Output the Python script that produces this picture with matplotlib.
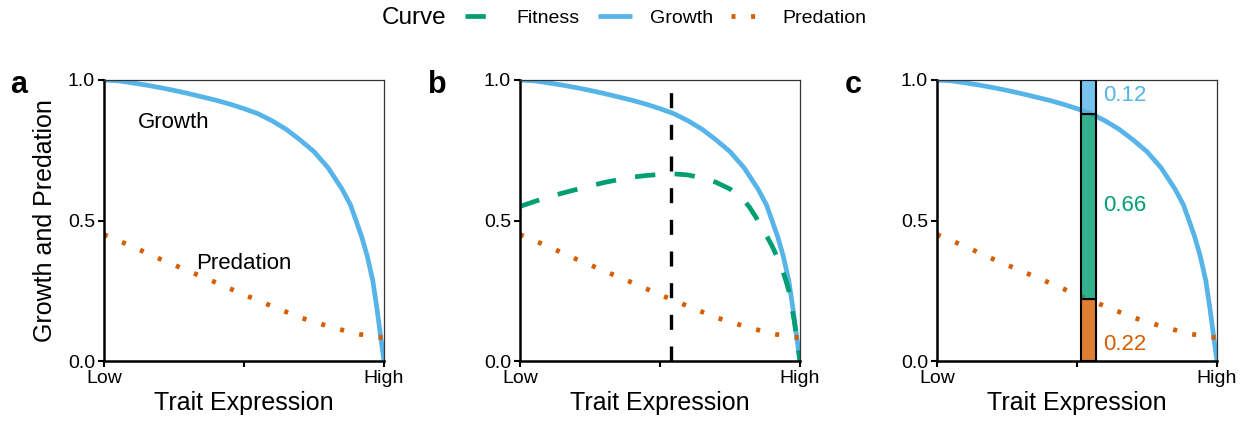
import matplotlib
matplotlib.use("Agg")
import matplotlib.pyplot as plt
from matplotlib.lines import Line2D
from matplotlib.colors import to_rgba

plt.rcParams['font.family'] = ['Liberation Sans', 'DejaVu Sans']

# Curves (trait expression scaled 0..1)
growth_x = [0.0, 0.05, 0.1, 0.15, 0.2, 0.25, 0.3, 0.35, 0.4, 0.45, 0.5, 0.55,
            0.6, 0.65, 0.7, 0.75, 0.8, 0.85, 0.88, 0.9, 0.92, 0.94, 0.96,
            0.975, 0.985, 0.993, 1.0]
growth_y = [1.0, 0.997, 0.99, 0.982, 0.973, 0.963, 0.952, 0.94, 0.928, 0.914,
            0.898, 0.88, 0.855, 0.825, 0.787, 0.745, 0.688, 0.612, 0.556, 0.5,
            0.443, 0.374, 0.286, 0.185, 0.11, 0.05, 0.0]

pred_x = [0.0, 0.1, 0.2, 0.3, 0.4, 0.5, 0.6, 0.7, 0.8, 0.9, 1.0]
pred_y = [0.45, 0.408, 0.363, 0.321, 0.279, 0.236, 0.195, 0.155, 0.124, 0.097, 0.082]

fit_x = [0.0, 0.05, 0.1, 0.15, 0.2, 0.25, 0.3, 0.35, 0.4, 0.45, 0.5, 0.55,
         0.6, 0.65, 0.7, 0.75, 0.8, 0.82, 0.85, 0.87, 0.9, 0.93, 0.95, 0.96,
         0.98, 0.99, 1.0]
fit_y = [0.55, 0.567, 0.583, 0.597, 0.61, 0.623, 0.635, 0.645, 0.654, 0.66,
         0.664, 0.666, 0.662, 0.652, 0.636, 0.612, 0.572, 0.547, 0.5, 0.465,
         0.41, 0.345, 0.285, 0.25, 0.14, 0.065, 0.0]

optimum = 0.541
bar_labels = ['0.22', '0.66', '0.12']
bar_values = [0.22, 0.66, 0.12]
label_y = [0.057, 0.554, 0.945]

c_fit = '#009E73'
c_growth = '#56B4E9'
c_pred = '#D55E00'
bar_colors = [c_pred, c_fit, c_growth]

lw = 3.4
dash_fit = (0, (4.3, 4.1))
dot_pred = (0, (0.85, 3.3))

fig = plt.figure(figsize=(12.5, 4.3), dpi=100)
W, H = 1250, 430
lefts = [104, 520, 937]
axes = []
for l in lefts:
    ax = fig.add_axes([l / W, (430 - 361) / H, 280 / W, 281 / H])
    axes.append(ax)

for i, ax in enumerate(axes):
    ax.plot(growth_x, growth_y, color=c_growth, lw=lw, solid_capstyle='butt',
            solid_joinstyle='round', zorder=2)
    ax.plot(pred_x, pred_y, color=c_pred, lw=lw, linestyle=dot_pred,
            dash_capstyle='butt', zorder=2)
    ax.set_xlim(0, 1)
    ax.set_ylim(0, 1)
    ax.set_xticks([0, 0.5, 1])
    ax.set_xticklabels(['Low', '', 'High'])
    ax.set_yticks([0, 0.5, 1])
    ax.set_yticklabels(['0.0', '0.5', '1.0'])
    ax.tick_params(labelsize=14, length=4.5, width=1.5, pad=2, color='black')
    for s in ['left', 'bottom']:
        ax.spines[s].set_linewidth(1.8)
        ax.spines[s].set_color('black')
    for s in ['top', 'right']:
        ax.spines[s].set_linewidth(0.9)
        ax.spines[s].set_color('#333333')
    ax.set_xlabel('Trait Expression', fontsize=18, labelpad=3)

axes[0].set_ylabel('Growth and Predation', fontsize=18, labelpad=8)
axes[0].text(0.12, 0.847, 'Growth', fontsize=16, va='center', ha='left')
axes[0].text(0.33, 0.348, 'Predation', fontsize=16, va='center', ha='left')

# panel b: fitness and optimum
axes[1].plot(fit_x, fit_y, color=c_fit, lw=lw, linestyle=dash_fit,
             dash_capstyle='butt', dash_joinstyle='round', zorder=2)
axes[1].axvline(optimum, color='black', lw=2.4, linestyle=(0, (4.5, 5)),
                dash_capstyle='butt', zorder=3)

# panel c: stacked bar at the optimum
bottom = 0.0
for v, c, lab, ty in zip(bar_values, bar_colors, bar_labels, label_y):
    axes[2].bar(optimum, v, bottom=bottom, width=0.054, color=to_rgba(c, 0.8),
                edgecolor='black', linewidth=1.5, zorder=3)
    axes[2].text(0.594, ty, lab, color=c, fontsize=16, va='center', ha='left')
    bottom += v

for letter, x in zip(['a', 'b', 'c'], [10, 428, 845]):
    fig.text(x / W, (430 - 93) / H, letter, fontsize=22, fontweight='bold',
             va='baseline', ha='left')

# legend across the top
fig.text(382 / W, (430 - 18) / H, 'Curve', fontsize=17.5, va='center', ha='left')
handles = [
    Line2D([], [], color=c_fit, lw=lw, linestyle=dash_fit, dash_capstyle='butt'),
    Line2D([], [], color=c_growth, lw=lw, solid_capstyle='butt'),
    Line2D([], [], color=c_pred, lw=lw, linestyle=dot_pred, dash_capstyle='butt'),
]
fig.legend(handles, ['Fitness', 'Growth', 'Predation'], ncol=3, frameon=False,
           loc='center left', bbox_to_anchor=(465 / W, (430 - 18) / H),
           fontsize=14, handlelength=1.75, handletextpad=0.9, columnspacing=0.95,
           borderpad=0, borderaxespad=0)

fig.savefig('out.png', dpi=100)
